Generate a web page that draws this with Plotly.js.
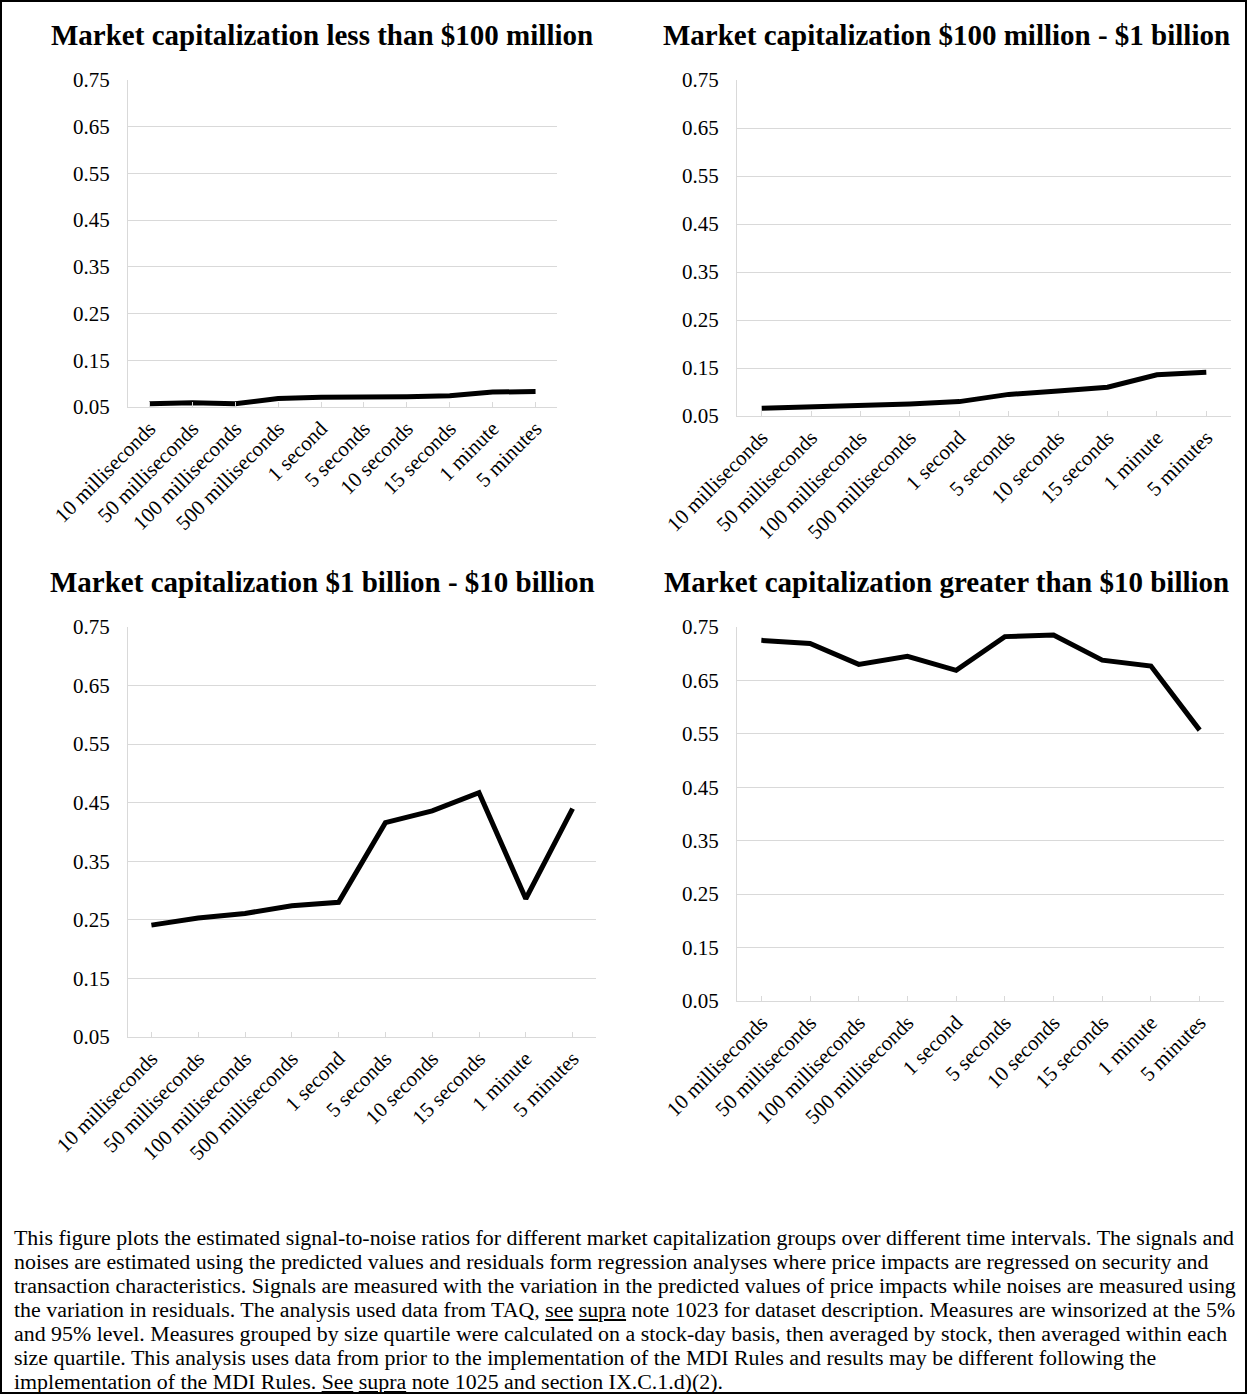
<!DOCTYPE html>
<html>
<head>
<meta charset="utf-8">
<script src="https://cdn.plot.ly/plotly-3.0.1.min.js"></script>
<style>
  html, body { margin: 0; padding: 0; background: #fff; }
  #wrap { position: relative; width: 1247px; height: 1395px; }
  #chart { position: absolute; left: 0; top: 0; width: 1247px; height: 1395px; }
  #note {
    position: absolute; left: 14px; top: 1226px; width: 1228px;
    font-family: "Liberation Serif", "Times New Roman", serif;
    font-size: 21.9px; line-height: 24px; color: #000; white-space: nowrap;
  }
  #note u { text-decoration: underline; }
</style>
</head>
<body>
<div id="wrap">
  <div id="chart"></div>
  <div id="note">This figure plots the estimated signal-to-noise ratios for different market capitalization groups over different time intervals. The signals and<br>noises are estimated using the predicted values and residuals form regression analyses where price impacts are regressed on security and<br>transaction characteristics. Signals are measured with the variation in the predicted values of price impacts while noises are measured using<br>the variation in residuals. The analysis used data from TAQ, <u>see</u> <u>supra</u> note 1023 for dataset description. Measures are winsorized at the 5%<br>and 95% level. Measures grouped by size quartile were calculated on a stock-day basis, then averaged by stock, then averaged within each<br>size quartile. This analysis uses data from prior to the implementation of the MDI Rules and results may be different following the<br>implementation of the MDI Rules. <u>See</u> <u>supra</u> note 1025 and section IX.C.1.d)(2).</div>
</div>
<script>
// Time intervals (x categories)
const intervals = [
  "10 milliseconds", "50 milliseconds", "100 milliseconds", "500 milliseconds",
  "1 second", "5 seconds", "10 seconds", "15 seconds", "1 minute", "5 minutes"
];

// Signal-to-noise ratio by market capitalization group
const snrUnder100M = [0.057, 0.059, 0.057, 0.068, 0.071, 0.071, 0.072, 0.074, 0.082, 0.083];
const snr100Mto1B  = [0.066, 0.069, 0.070, 0.075, 0.080, 0.095, 0.102, 0.110, 0.136, 0.141];
const snr1Bto10B   = [0.241, 0.253, 0.261, 0.274, 0.280, 0.416, 0.436, 0.467, 0.286, 0.440];
const snrOver10B   = [0.725, 0.719, 0.680, 0.695, 0.669, 0.732, 0.735, 0.688, 0.677, 0.557];

const panelTitles = [
  "Market capitalization less than $100 million",
  "Market capitalization $100 million - $1 billion",
  "Market capitalization $1 billion - $10 billion",
  "Market capitalization greater than $10 billion"
];

const yTickValues = [0.05, 0.15, 0.25, 0.35, 0.45, 0.55, 0.65, 0.75];
const yTickLabels = ["0.05", "0.15", "0.25", "0.35", "0.45", "0.55", "0.65", "0.75"];

const W = 1247, H = 1395;
const SERIF = "Liberation Serif, Times New Roman, serif";

// Plot-area boxes in pixels: [left, right, top, bottom], plus title centre
const panels = [
  { series: snrUnder100M, box: [128, 557, 80, 407],  title: [322, 35] },
  { series: snr100Mto1B,  box: [737, 1231, 80, 416], title: [946, 35] },
  { series: snr1Bto10B,   box: [128, 596, 627, 1037], title: [322, 582] },
  { series: snrOver10B,   box: [737, 1224, 627, 1001], title: [946, 582] }
];

const px = v => v / W;
const py = v => 1 - v / H;

const traces = [];
const layout = {
  width: W, height: H,
  margin: { l: 0, r: 0, t: 0, b: 0 },
  paper_bgcolor: "#ffffff",
  plot_bgcolor: "#ffffff",
  showlegend: false,
  annotations: [],
  shapes: [{
    type: "rect", xref: "paper", yref: "paper",
    x0: px(1), x1: px(1246), y0: py(1393), y1: py(1),
    line: { color: "#000", width: 2 }, fillcolor: "rgba(0,0,0,0)", layer: "above"
  }]
};

panels.forEach((p, i) => {
  const n = i === 0 ? "" : String(i + 1);
  traces.push({
    type: "scatter", mode: "lines",
    x: intervals, y: p.series,
    xaxis: "x" + n, yaxis: "y" + n,
    line: { color: "#000", width: 5, shape: "linear" },
    hoverinfo: "x+y"
  });
  const [l, r, t, b] = p.box;
  layout["xaxis" + n] = {
    type: "category",
    domain: [px(l), px(r)],
    anchor: "y" + n,
    range: [-0.5, intervals.length - 0.5],
    showgrid: false, zeroline: false,
    showline: true, linecolor: "#d9d9d9", linewidth: 1,
    ticks: "inside", ticklen: 5, tickcolor: "#d9d9d9", tickwidth: 1,
    tickangle: -45,
    tickfont: { family: SERIF, size: 21, color: "#000" },
    fixedrange: true
  };
  layout["yaxis" + n] = {
    domain: [py(b), py(t)],
    anchor: "x" + n,
    range: [0.05, 0.75],
    tickvals: yTickValues, ticktext: yTickLabels,
    showgrid: true, gridcolor: "#d9d9d9", gridwidth: 1,
    zeroline: false,
    showline: true, linecolor: "#d9d9d9", linewidth: 1,
    ticks: "", ticklabelstandoff: 13,
    tickfont: { family: SERIF, size: 21, color: "#000" },
    fixedrange: true
  };
  layout.annotations.push({
    xref: "paper", yref: "paper",
    x: px(p.title[0]), y: py(p.title[1]),
    xanchor: "center", yanchor: "middle",
    text: "<b>" + panelTitles[i] + "</b>",
    showarrow: false,
    font: { family: SERIF, size: 29, color: "#000" }
  });
});

Plotly.newPlot("chart", traces, layout, { displayModeBar: false, staticPlot: true });
</script>
</body>
</html>
